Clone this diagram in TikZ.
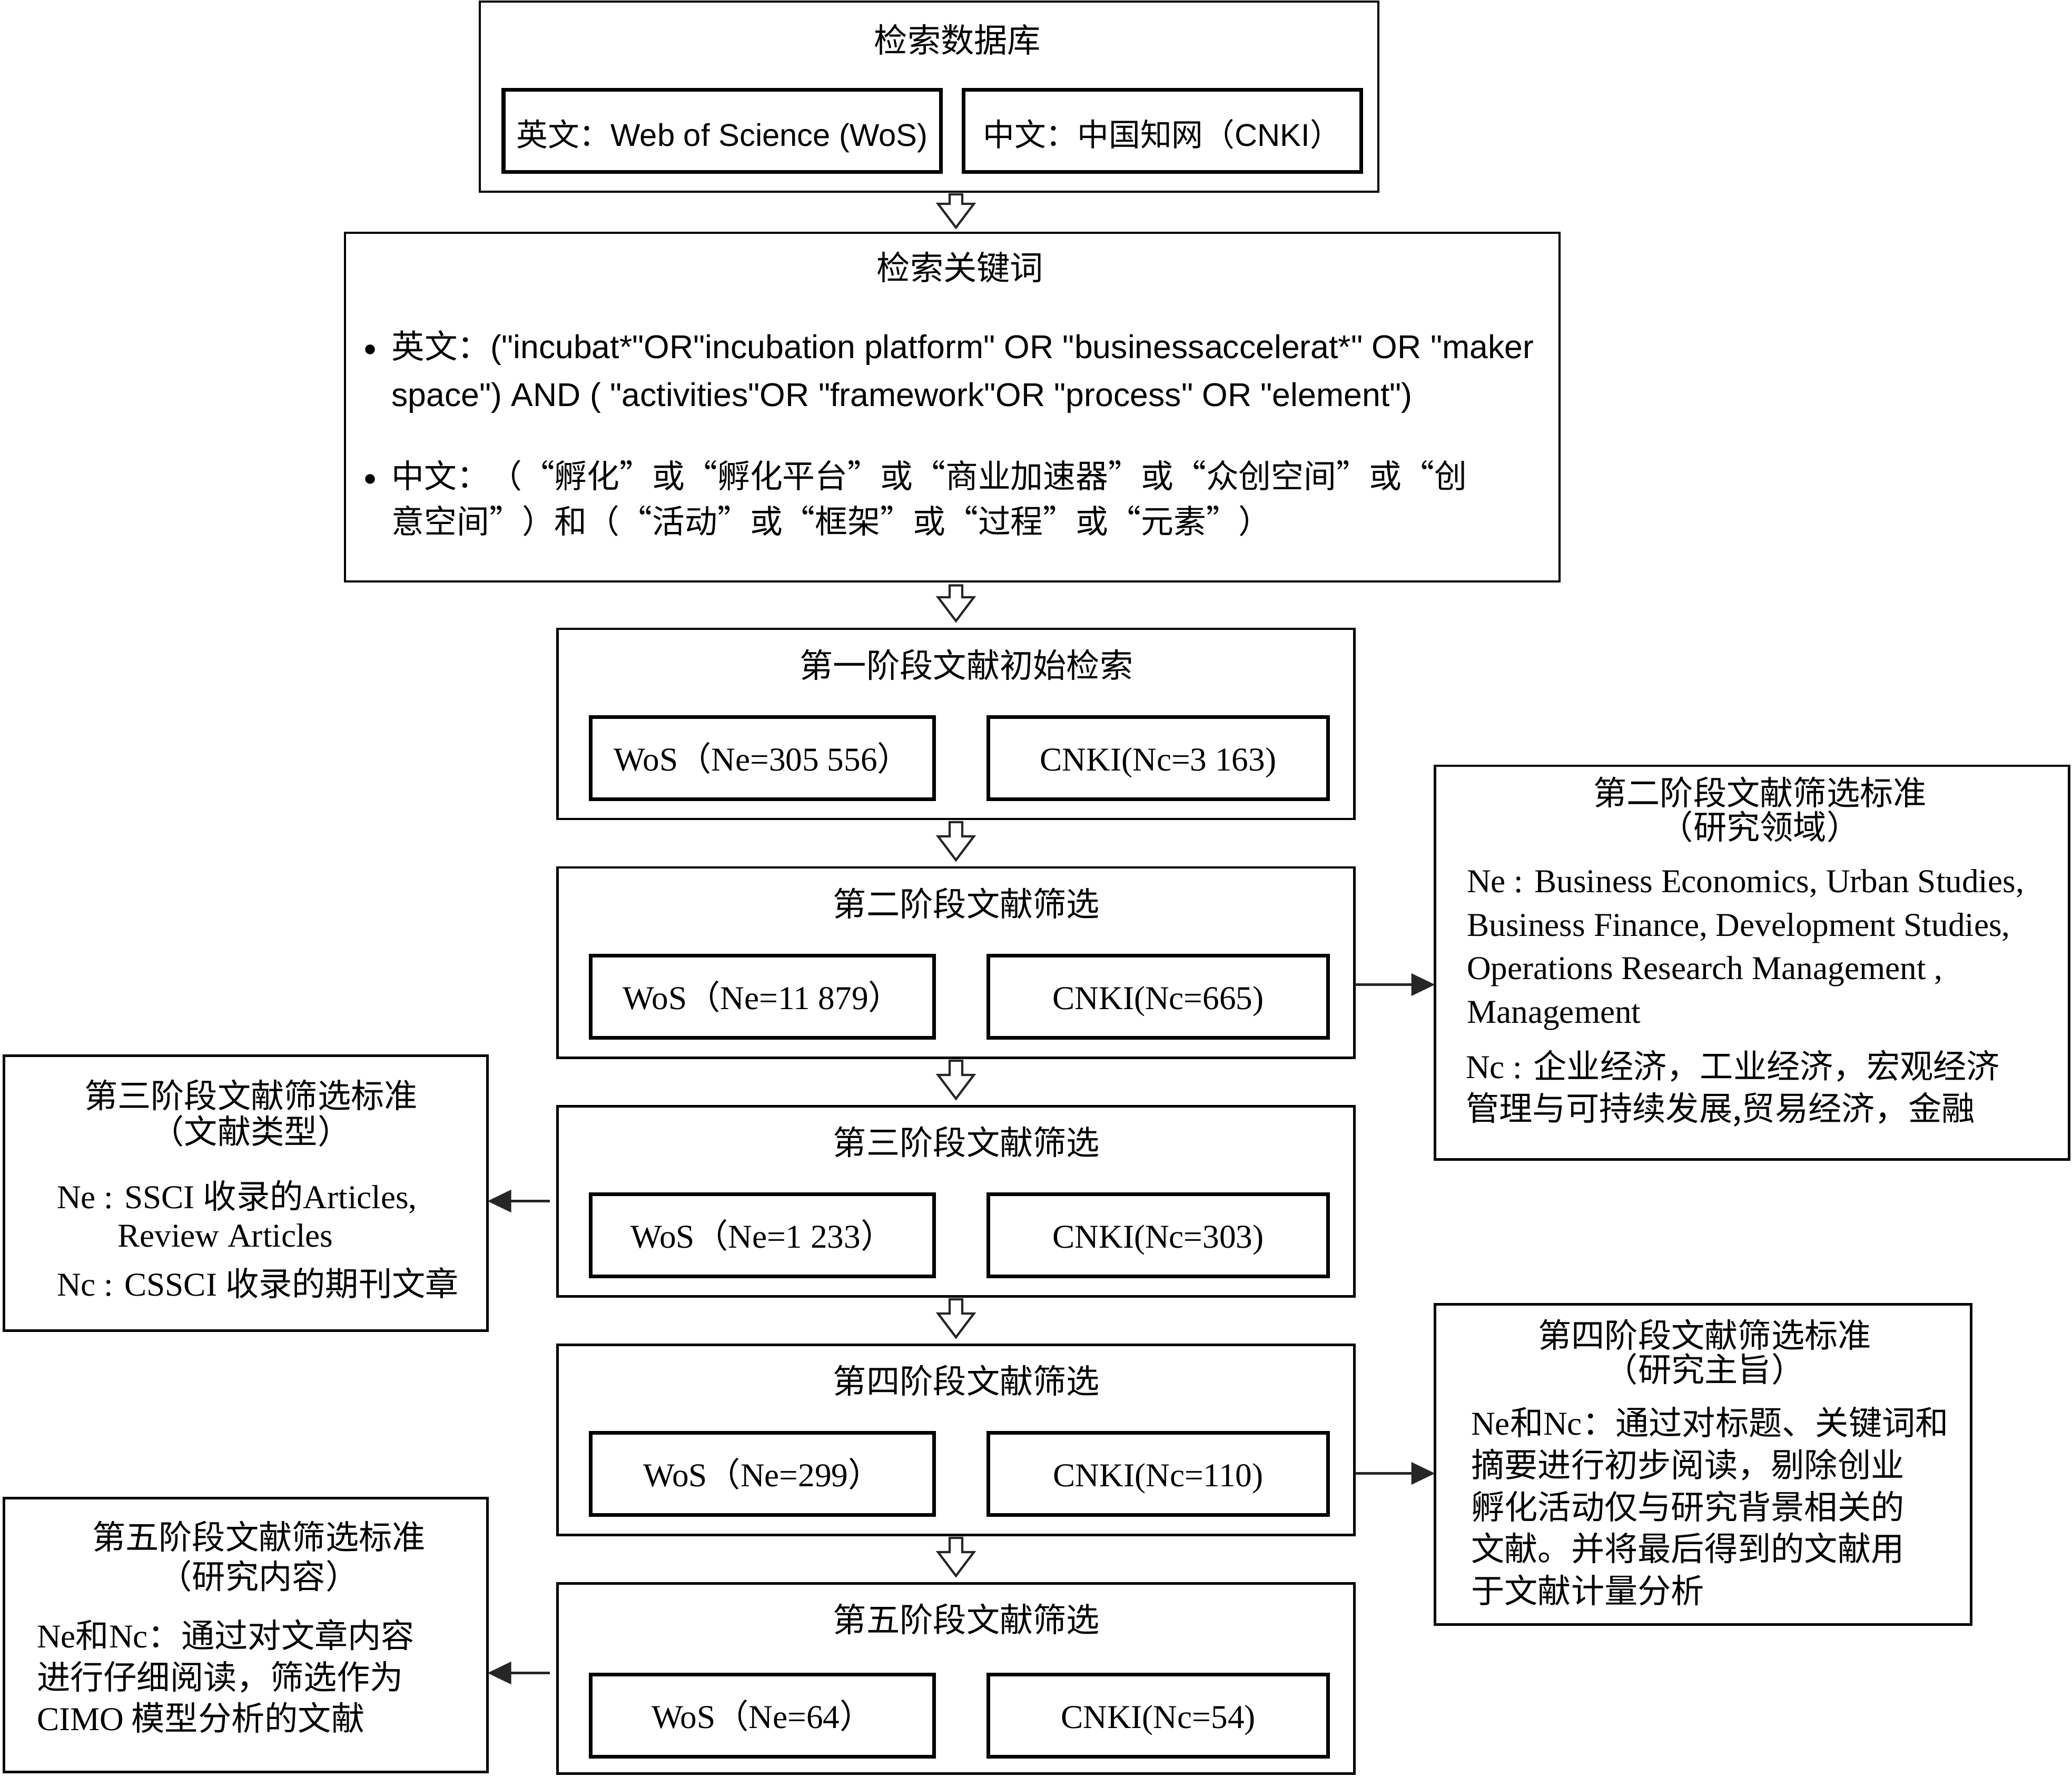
\documentclass[tikz,border=0pt]{standalone}
\usepackage{fontspec}
\setmainfont{Liberation Serif}
\newfontfamily\cjk{Noto Sans CJK SC}
\newfontfamily\lsans{Liberation Sans}
\usetikzlibrary{arrows.meta, positioning, calc}

\begin{document}
\begin{tikzpicture}[
  stage/.style={draw, line width=1.4pt, outer sep=0pt, inner sep=0pt,
                minimum width=15.13cm, minimum height=3.61cm},
  inbox/.style={draw, line width=2pt, outer sep=0pt, inner sep=0pt,
                minimum height=1.56cm, text height=16pt, text depth=2pt,
                font=\fontsize{18}{22}\selectfont},
  crit/.style={draw, line width=1.4pt, outer sep=0pt, inner sep=0pt},
  ttl/.style={inner sep=0pt, align=center, font=\cjk\fontsize{18}{18.5}\selectfont},
  bodytxt/.style={inner sep=0pt, align=left, anchor=north west},
  dot/.style={inner sep=0pt, font=\fontsize{22}{22}\selectfont},
  hollow/.style={draw=black!85, line width=1.2pt, fill=white,
    to path={let \p1=(\tikztostart), \p2=(\tikztotarget) in
      (\x1-0.12cm,\y1) -- (\x1+0.12cm,\y1) -- (\x1+0.12cm,\y2+0.45cm)
      -- (\x1+0.34cm,\y2+0.45cm) -- (\x1,\y2) -- (\x1-0.34cm,\y2+0.45cm)
      -- (\x1-0.12cm,\y2+0.45cm) -- cycle}},
  ar/.style={draw=black!85, line width=1.4pt, -{Triangle[length=0.45cm, width=0.42cm]}}
]
\useasboundingbox (0,0) rectangle (39.34,-33.73);

% databases
\node[stage, minimum width=17.06cm] (db) at (17.64,-1.835) {};
\node[ttl] (dbT) at ($(db.north)+(0.54,-0.72)$) {检索数据库};
\node[inbox, minimum width=8.30cm, anchor=south west, text height=19pt, text depth=2pt,
      font=\fontsize{17}{20}\selectfont] (dbE) at ($(db.south west)+(0.45,0.38)$)
  {{\cjk 英文：}{\lsans Web of Science (WoS)}};
\node[inbox, minimum width=7.55cm, right=0.43cm of dbE, text height=19pt, text depth=2pt,
      font=\fontsize{17}{20}\selectfont] (dbC)
  {{\cjk 中文：中国知网（}{\lsans CNKI}{\cjk ）}};

% keywords
\node[stage, minimum width=23.06cm, minimum height=6.62cm, below=0.78cm of db, xshift=0.44cm] (kw) {};
\node[ttl] (kwT) at ($(kw.north)+(0.15,-0.65)$) {检索关键词};
\node[dot] (b1) at ($(kw.north west)+(0.48,-2.30)$) {\textbullet};
\node[bodytxt, font=\lsans\fontsize{17.8}{25.8}\selectfont] (kwE) at ($(kw.north west)+(0.88,-1.85)$)
  {{\cjk 英文：}("incubat*"OR"incubation platform" OR "businessaccelerat*" OR "maker\\
   space") AND ( "activities"OR "framework"OR "process" OR "element")};
\node[dot] (b2) at ($(kw.north west)+(0.48,-4.76)$) {\textbullet};
\node[bodytxt, font=\cjk\fontsize{17.6}{24.4}\selectfont] (kwC) at ($(kw.north west)+(0.88,-4.31)$)
  {中文：（“孵化”或“孵化平台”或“商业加速器”或“众创空间”或“创\\
   意空间”）和（“活动”或“框架”或“过程”或“元素”）};

% stages
\node[stage, below=0.9cm of kw, xshift=0.07cm] (s1) {};
\node[ttl] (s1T) at ($(s1.north)+(0.2,-0.68)$) {第一阶段文献初始检索};
\node[inbox, minimum width=6.52cm, anchor=south west] (s1e) at ($(s1.south west)+(0.63,0.38)$) {WoS{\cjk （}Ne=305 556{\cjk ）}};
\node[inbox, minimum width=6.45cm, right=1.03cm of s1e] (s1c) {CNKI(Nc=3 163)};

\node[stage, below=0.92cm of s1] (s2) {};
\node[ttl] (s2T) at ($(s2.north)+(0.2,-0.68)$) {第二阶段文献筛选};
\node[inbox, minimum width=6.52cm, anchor=south west] (s2e) at ($(s2.south west)+(0.63,0.38)$) {WoS{\cjk （}Ne=11 879{\cjk ）}};
\node[inbox, minimum width=6.45cm, right=1.03cm of s2e] (s2c) {CNKI(Nc=665)};

\node[stage, below=0.92cm of s2] (s3) {};
\node[ttl] (s3T) at ($(s3.north)+(0.2,-0.68)$) {第三阶段文献筛选};
\node[inbox, minimum width=6.52cm, anchor=south west] (s3e) at ($(s3.south west)+(0.63,0.38)$) {WoS{\cjk （}Ne=1 233{\cjk ）}};
\node[inbox, minimum width=6.45cm, right=1.03cm of s3e] (s3c) {CNKI(Nc=303)};

\node[stage, below=0.92cm of s3] (s4) {};
\node[ttl] (s4T) at ($(s4.north)+(0.2,-0.68)$) {第四阶段文献筛选};
\node[inbox, minimum width=6.52cm, anchor=south west] (s4e) at ($(s4.south west)+(0.63,0.38)$) {WoS{\cjk （}Ne=299{\cjk ）}};
\node[inbox, minimum width=6.45cm, right=1.03cm of s4e] (s4c) {CNKI(Nc=110)};

\node[stage, below=0.92cm of s4] (s5) {};
\node[ttl] (s5T) at ($(s5.north)+(0.2,-0.68)$) {第五阶段文献筛选};
\node[inbox, minimum width=6.52cm, anchor=south west] (s5e) at ($(s5.south west)+(0.63,0.32)$) {WoS{\cjk （}Ne=64{\cjk ）}};
\node[inbox, minimum width=6.45cm, right=1.03cm of s5e] (s5c) {CNKI(Nc=54)};

% criteria
\node[crit, minimum width=12.04cm, minimum height=7.47cm, right=1.53cm of s2] (c2) {};
\node[ttl, anchor=north] (c2T) at ($(c2.north)+(0.15,-0.20)$) {第二阶段文献筛选标准\\（研究领域）};
\node[bodytxt, font=\fontsize{18}{23.5}\selectfont] (c2e) at ($(c2.north west)+(0.60,-1.96)$)
  {Ne : Business Economics, Urban Studies,\\Business Finance, Development Studies,\\
   Operations Research Management ,\\Management};
\node[bodytxt, font=\fontsize{18}{22.7}\selectfont] (c2c) at ($(c2.north west)+(0.58,-5.39)$)
  {Nc : {\cjk 企业经济，工业经济，宏观经济}\\{\cjk 管理与可持续发展,贸易经济，金融}};

\node[crit, minimum width=9.18cm, minimum height=5.22cm, left=1.33cm of s3, yshift=0.15cm] (c3) {};
\node[ttl, anchor=north, font=\cjk\fontsize{18}{19.3}\selectfont] (c3T) at ($(c3.north)+(0.10,-0.45)$) {第三阶段文献筛选标准\\（文献类型）};
\node[bodytxt, font=\fontsize{18}{20.7}\selectfont] (c3e) at ($(c3.north west)+(1.0,-2.36)$)
  {Ne : SSCI {\cjk 收录的}Articles,\\\hspace*{1.15cm}Review Articles};
\node[bodytxt, font=\fontsize{18}{22}\selectfont] (c3c) at ($(c3.north west)+(1.0,-4.01)$) {Nc : CSSCI {\cjk 收录的期刊文章}};

\node[crit, minimum width=10.18cm, minimum height=6.08cm, right=1.53cm of s4, yshift=-0.47cm] (c4) {};
\node[ttl, anchor=north] (c4T) at ($(c4.north)+(0.03,-0.28)$) {第四阶段文献筛选标准\\（研究主旨）};
\node[bodytxt, font=\cjk\fontsize{18}{22.7}\selectfont] (c4b) at ($(c4.north west)+(0.68,-1.94)$)
  {{\rmfamily Ne}和{\rmfamily Nc}：通过对标题、关键词和\\摘要进行初步阅读，剔除创业\\
   孵化活动仅与研究背景相关的\\文献。并将最后得到的文献用\\于文献计量分析};

\node[crit, minimum width=9.18cm, minimum height=5.20cm, left=1.33cm of s5, yshift=0.82cm] (c5) {};
\node[ttl, anchor=north, font=\cjk\fontsize{18}{21.3}\selectfont] (c5T) at ($(c5.north)+(0.25,-0.43)$) {第五阶段文献筛选标准\\（研究内容）};
\node[bodytxt, font=\cjk\fontsize{18}{22.4}\selectfont] (c5b) at ($(c5.north west)+(0.62,-2.29)$)
  {{\rmfamily Ne}和{\rmfamily Nc}：通过对文章内容\\进行仔细阅读，筛选作为\\{\rmfamily CIMO} 模型分析的文献};

% flow
\draw[hollow] ($(db.south)+(0.51,-0.05)$) to ($(kw.north)+(0.07,0.10)$);
\draw[hollow] ($(kw.south)+(0.07,-0.075)$) to ($(s1.north)+(0,0.15)$);
\draw[hollow] ($(s1.south)+(0,-0.06)$) to ($(s2.north)+(0,0.14)$);
\draw[hollow] ($(s2.south)+(0,-0.06)$) to ($(s3.north)+(0,0.14)$);
\draw[hollow] ($(s3.south)+(0,-0.06)$) to ($(s4.north)+(0,0.14)$);
\draw[hollow] ($(s4.south)+(0,-0.06)$) to ($(s5.north)+(0,0.14)$);

\draw[ar] ($(s2.east)+(0,-0.42)$) -- ($(s2.east -| c2.west)+(0,-0.42)$);
\draw[ar, shorten <=0.15cm] (s3.west) -- (s3.west -| c3.east);
\draw[ar] ($(s4.east)+(0,-0.64)$) -- ($(s4.east -| c4.west)+(0,-0.64)$);
\draw[ar, shorten <=0.15cm] ($(s5.west)+(0,0.1)$) -- ($(s5.west -| c5.east)+(0,0.1)$);
\end{tikzpicture}
\end{document}
